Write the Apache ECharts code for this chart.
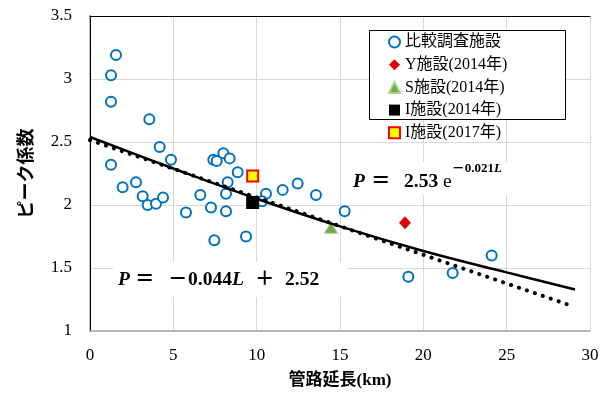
<!DOCTYPE html>
<html><head><meta charset="utf-8">
<script src="https://cdn.jsdelivr.net/npm/echarts@6/dist/echarts.min.js"></script>
<style>html,body{margin:0;padding:0;background:#fff}#c{width:605px;height:394px}</style>
</head><body><div id="c"></div>
<script>
const xTicks = [0, 5, 10, 15, 20, 25, 30];
const yTicks = [1, 1.5, 2, 2.5, 3, 3.5];
const xAxisName = '管路延長(km)';
const yAxisName = 'ピーク係数';
const legendNames = ['比較調査施設', 'Y施設(2014年)', 'S施設(2014年)', 'I施設(2014年)', 'I施設(2017年)'];
const comparisonPoints = [
  [1.56, 3.19], [1.26, 3.03], [1.26, 2.82], [3.56, 2.68], [4.18, 2.46], [4.86, 2.36],
  [1.26, 2.32], [1.96, 2.14], [2.76, 2.18], [3.16, 2.07], [3.46, 2.00], [3.96, 2.01],
  [4.38, 2.06], [5.76, 1.94], [6.62, 2.08], [7.40, 2.36], [7.60, 2.35], [8.00, 2.41],
  [8.38, 2.37], [8.86, 2.26], [8.26, 2.18], [8.16, 2.09], [7.26, 1.98], [8.16, 1.95],
  [7.46, 1.72], [9.36, 1.75], [10.56, 2.09], [10.32, 2.03], [11.56, 2.12], [12.46, 2.17],
  [13.56, 2.08], [15.28, 1.95], [19.10, 1.43], [21.76, 1.46], [24.10, 1.60]
];
const facilityY2014 = [[18.9, 1.86]];
const facilityS2014 = [[14.46, 1.82]];
const facilityI2014 = [[9.76, 2.02]];
const facilityI2017 = [[9.76, 2.23]];
const expTrend = [[0, 2.54], [5, 2.29], [10, 2.05], [15, 1.83], [20, 1.635], [25, 1.465], [29.1, 1.33]];
const linearTrend = [[0, 2.515], [29, 1.195]];

const FONT = "'Liberation Serif','Noto Sans CJK JP',serif";
const chart = echarts.init(document.getElementById('c'));

const axisCommon = {
  type: 'value', axisTick: { show: false },
  splitLine: { show: true, lineStyle: { color: '#d9d9d9', width: 1 } }
};
const tok = (extra) => Object.assign({ fontFamily: FONT, fontSize: 19.5, fontWeight: 'bold', fill: '#000', align: 'left' }, extra);

chart.setOption({
  animation: false,
  backgroundColor: '#fff',
  grid: { left: 90, right: 15, top: 16, bottom: 62 },
  xAxis: [
    Object.assign({}, axisCommon, {
      min: xTicks[0], max: xTicks[xTicks.length - 1], interval: xTicks[1] - xTicks[0],
      axisLine: { show: true, lineStyle: { color: '#a6a6a6', width: 1.5 } },
      axisLabel: { margin: 16, color: '#000', fontSize: 17, fontFamily: FONT },
      name: xAxisName, nameLocation: 'middle', nameGap: 41,
      nameTextStyle: { color: '#000', fontSize: 17, fontWeight: 'bold', fontFamily: FONT }
    }),
    { type: 'value', position: 'top', min: xTicks[0], max: xTicks[xTicks.length - 1],
      axisLine: { show: true, lineStyle: { color: '#000', width: 1 } },
      axisTick: { show: false }, axisLabel: { show: false }, splitLine: { show: false } }
  ],
  yAxis: [
    Object.assign({}, axisCommon, {
      min: yTicks[0], max: yTicks[yTicks.length - 1], interval: yTicks[1] - yTicks[0],
      axisLine: { show: true, lineStyle: { color: '#a6a6a6', width: 1.5 } },
      axisLabel: { margin: 18, color: '#000', fontSize: 17, fontFamily: FONT },
      name: yAxisName, nameLocation: 'middle', nameGap: 54, nameRotate: 90,
      nameTextStyle: { color: '#000', fontSize: 18, fontWeight: 'bold', fontFamily: FONT }
    }),
    { type: 'value', position: 'right', min: yTicks[0], max: yTicks[yTicks.length - 1],
      axisLine: { show: true, lineStyle: { color: '#000', width: 1 } },
      axisTick: { show: false }, axisLabel: { show: false }, splitLine: { show: false } }
  ],
  legend: {
    orient: 'vertical', left: 388, top: 34, padding: 0,
    itemWidth: 11, itemHeight: 11, itemGap: 6.7,
    textStyle: { color: '#000', fontSize: 16, fontFamily: FONT, lineHeight: 11 },
    data: legendNames
  },
  graphic: { elements: [
    { type: 'rect', z: 3, shape: { x: 369.5, y: 30.5, width: 196, height: 89 },
      style: { fill: '#fff', stroke: '#000', lineWidth: 1 } },
    { type: 'rect', z: 3, shape: { x: 113, y: 262, width: 234, height: 35 }, style: { fill: '#fff' } },
    { type: 'rect', z: 3, shape: { x: 345, y: 162, width: 172, height: 33 }, style: { fill: '#fff' } },
    { type: 'text', z: 5, x: 118, y: 280, style: {
      text: '{pi|P}{e|＝}{m|－}{a|0.044}{li|L}{pl|＋}{b|2.52}', align: 'left', verticalAlign: 'middle',
      rich: {
        pi: tok({ fontStyle: 'italic', width: 17 }),
        e: tok({ width: 33 }),
        m: tok({ width: 20 }),
        a: tok({ width: 44 }),
        li: tok({ fontStyle: 'italic', width: 23 }),
        pl: tok({ width: 30 }),
        b: tok({})
      } } },
    { type: 'text', z: 5, x: 353, y: 182, style: {
      text: '{pi|P}{e|＝}{a|2.53}{x|e}{sm|－}{sup|0.021}{supi|L}', align: 'left', verticalAlign: 'middle',
      rich: {
        pi: tok({ fontStyle: 'italic', width: 18, lineHeight: 40 }),
        e: tok({ width: 33, lineHeight: 40 }),
        a: tok({ width: 39, lineHeight: 40 }),
        x: tok({ fontWeight: 'normal', lineHeight: 40 }),
        sm: tok({ fontSize: 13, lineHeight: 14, verticalAlign: 'top', width: 13 }),
        sup: tok({ fontSize: 13, lineHeight: 14, verticalAlign: 'top' }),
        supi: tok({ fontSize: 13, fontStyle: 'italic', lineHeight: 14, verticalAlign: 'top' })
      } } }
  ] },
  series: [
    { name: legendNames[0], type: 'scatter', z: 2, data: comparisonPoints, symbol: 'circle', symbolSize: 10,
      itemStyle: { color: '#fff', borderColor: '#0070c0', borderWidth: 2, opacity: 1 } },
    { name: legendNames[2], type: 'scatter', z: 2, data: facilityS2014, symbol: 'triangle', symbolSize: [13, 11],
      itemStyle: { color: '#70ad47', borderColor: '#a9d18e', borderWidth: 1, opacity: 1 } },
    { name: 'exp', type: 'line', z: 3, data: expTrend, smooth: 0.4, showSymbol: false, symbol: 'none',
      lineStyle: { color: '#000', width: 2.5 } },
    { name: 'lin', type: 'line', z: 3, data: linearTrend, showSymbol: false, symbol: 'none',
      lineStyle: { color: '#000', width: 4, type: [0.1, 8.3], cap: 'round' } },
    { name: legendNames[1], type: 'scatter', z: 4, data: facilityY2014, symbol: 'diamond', symbolSize: [12, 13],
      itemStyle: { color: '#e00000', opacity: 1 } },
    { name: legendNames[3], type: 'scatter', z: 4, data: facilityI2014, symbol: 'rect', symbolSize: 13,
      itemStyle: { color: '#000', opacity: 1 } },
    { name: legendNames[4], type: 'scatter', z: 4, data: facilityI2017, symbol: 'rect', symbolSize: 11,
      itemStyle: { color: '#ffff00', borderColor: '#ff0000', borderWidth: 2, opacity: 1 } }
  ]
});
</script></body></html>
